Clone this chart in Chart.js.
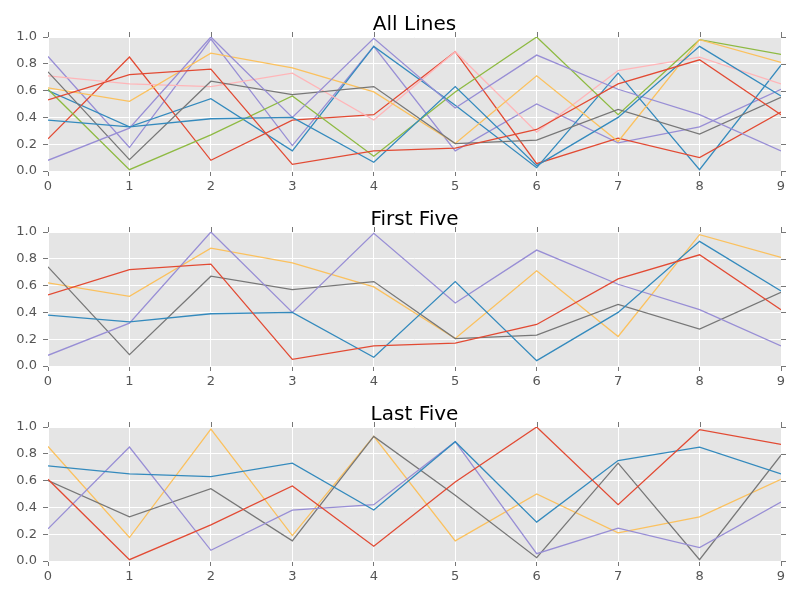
<!DOCTYPE html>
<html>
<head>
<meta charset="utf-8">
<script src="https://cdn.jsdelivr.net/npm/chart.js@4.4.0/dist/chart.umd.min.js"></script>
<style>
  body { margin: 0; background: #fff; }
  .panel { position: absolute; left: 0; width: 800px; height: 195px; }
</style>
</head>
<body>
<div class="panel" style="top:0px"><canvas id="c1" width="800" height="195"></canvas></div>
<div class="panel" style="top:195px"><canvas id="c2" width="800" height="195"></canvas></div>
<div class="panel" style="top:390px"><canvas id="c3" width="800" height="195"></canvas></div>
<script>
// eje x y ticks
const xs = [0, 1, 2, 3, 4, 5, 6, 7, 8, 9];
const yTicks = [0.0, 0.2, 0.4, 0.6, 0.8, 1.0];

// las diez series
const s0 = [0.53, 0.72, 0.76, 0.05, 0.15, 0.17, 0.31, 0.65, 0.83, 0.42];
const s1 = [0.38, 0.33, 0.39, 0.40, 0.065, 0.63, 0.04, 0.40, 0.93, 0.56];
const s2 = [0.08, 0.32, 1.00, 0.40, 0.99, 0.47, 0.865, 0.61, 0.42, 0.15];
const s3 = [0.74, 0.085, 0.67, 0.57, 0.63, 0.205, 0.23, 0.46, 0.275, 0.55];
const s4 = [0.62, 0.52, 0.88, 0.77, 0.59, 0.205, 0.71, 0.22, 0.98, 0.81];
const s5 = [0.61, 0.01, 0.27, 0.56, 0.11, 0.59, 1.00, 0.42, 0.98, 0.87];
const s6 = [0.71, 0.65, 0.63, 0.73, 0.38, 0.89, 0.29, 0.75, 0.85, 0.65];
const s7 = [0.24, 0.85, 0.08, 0.38, 0.42, 0.89, 0.055, 0.245, 0.10, 0.44];
const s8 = [0.60, 0.33, 0.54, 0.15, 0.93, 0.49, 0.025, 0.73, 0.01, 0.79];
const s9 = [0.855, 0.175, 0.985, 0.19, 0.93, 0.15, 0.50, 0.21, 0.33, 0.61];

const allSeries = [s0, s1, s2, s3, s4, s5, s6, s7, s8, s9];
const colores = ['#E24A33', '#348ABD', '#988ED5', '#777777', '#FBC15E', '#8EBA42', '#FFB5B8'];

// Plugin: fondo gris, título y marcas de ticks arriba/derecha
const panelPlugin = {
    id: 'panelPlugin',
    beforeDraw(chart) {
        const a = chart.chartArea;
        const ctx = chart.ctx;
        ctx.save();
        ctx.fillStyle = '#E5E5E5';
        ctx.fillRect(a.left, a.top, a.right - a.left, a.bottom - a.top);
        ctx.restore();
    },
    afterDraw(chart, args, opts) {
        const a = chart.chartArea;
        const ctx = chart.ctx;
        ctx.save();
        ctx.strokeStyle = '#777';
        ctx.lineWidth = 1;
        xs.forEach(v => {
            const px = Math.round(chart.scales.x.getPixelForValue(v)) + 0.5;
            ctx.beginPath();
            ctx.moveTo(px, a.top);
            ctx.lineTo(px, a.top - 5);
            ctx.stroke();
        });
        yTicks.forEach(v => {
            const py = Math.round(chart.scales.y.getPixelForValue(v)) + 0.5;
            ctx.beginPath();
            ctx.moveTo(a.right, py);
            ctx.lineTo(a.right + 5, py);
            ctx.stroke();
        });
        ctx.fillStyle = '#000';
        ctx.font = '20px "DejaVu Sans"';
        ctx.textAlign = 'center';
        ctx.textBaseline = 'alphabetic';
        ctx.fillText(opts.text, (a.left + a.right) / 2, 30);
        ctx.restore();
    }
};

function makeChart(id, title, series, colorList) {
    const datasets = series.map((s, i) => ({
        data: xs.map((x, j) => ({ x: x, y: s[j] })),
        borderColor: colorList[i],
        borderWidth: 1.3,
        pointRadius: 0,
        tension: 0,
        fill: false
    }));
    return new Chart(document.getElementById(id).getContext('2d'), {
        type: 'line',
        data: { datasets: datasets },
        options: {
            responsive: false,
            animation: false,
            layout: { padding: { top: 37, right: 19, left: 0, bottom: 0 } },
            plugins: {
                legend: { display: false },
                tooltip: { enabled: false },
                panelPlugin: { text: title }
            },
            scales: {
                x: {
                    type: 'linear',
                    min: 0, max: 9,
                    afterBuildTicks: s => { s.ticks = xs.map(v => ({ value: v })); },
                    afterFit: s => { s.height = 24; },
                    grid: { color: '#fff', lineWidth: 1, tickColor: '#777', tickLength: 5 },
                    border: { display: false },
                    ticks: { color: '#555', font: { size: 13, family: 'DejaVu Sans' }, padding: 3, maxRotation: 0 }
                },
                y: {
                    min: 0, max: 1,
                    afterBuildTicks: s => { s.ticks = yTicks.map(v => ({ value: v })); },
                    afterFit: s => { s.width = 48; },
                    grid: { color: '#fff', lineWidth: 1, tickColor: '#777', tickLength: 5 },
                    border: { display: false },
                    ticks: { color: '#555', font: { size: 13, family: 'DejaVu Sans' }, padding: 6,
                             callback: v => Number(v).toFixed(1) }
                }
            }
        },
        plugins: [panelPlugin]
    });
}

const allColors = [colores[0], colores[1], colores[2], colores[3], colores[4],
                   colores[5], colores[6], colores[0], colores[1], colores[2]];
makeChart('c1', 'All Lines', allSeries, allColors);
makeChart('c2', 'First Five', allSeries.slice(0, 5), colores.slice(0, 5));
makeChart('c3', 'Last Five', allSeries.slice(5), colores.slice(0, 5));
</script>
</body>
</html>
